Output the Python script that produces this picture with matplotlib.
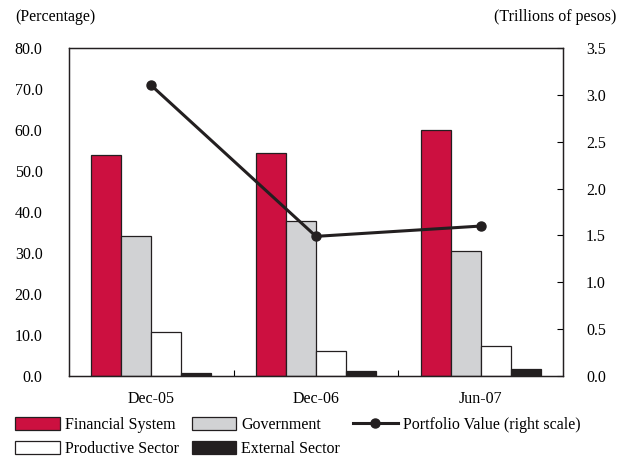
import matplotlib
matplotlib.use("Agg")
import matplotlib.pyplot as plt
import numpy as np
from matplotlib.patches import Patch
from matplotlib.lines import Line2D

plt.rcParams['font.family'] = ['Liberation Serif', 'DejaVu Serif']

categories = ["Dec-05", "Dec-06", "Jun-07"]
financial = [53.9, 54.4, 60.0]
government = [34.1, 37.8, 30.5]
productive = [10.7, 6.1, 7.3]
external = [0.8, 1.2, 1.7]
portfolio = [3.1, 1.49, 1.6]
left_ticks = [0, 10, 20, 30, 40, 50, 60, 70, 80]
right_ticks = [0, 0.5, 1.0, 1.5, 2.0, 2.5, 3.0, 3.5]

c_fin = "#CC1040"
c_gov = "#D1D2D4"
c_prod = "#FFFFFF"
c_ext = "#231F20"
edge = "#231F20"

fs = 11.5
fig = plt.figure(figsize=(6.18, 4.59), dpi=100)
ax = fig.add_axes([69/618, 1-376/459, (563-69)/618, (376-48)/459])
x = np.arange(len(categories))
w = 0.182
series = [(financial, c_fin), (government, c_gov), (productive, c_prod), (external, c_ext)]
for i, (vals, col) in enumerate(series):
    ax.bar(x + (i - 1.5) * w, vals, width=w, color=col, edgecolor=edge, linewidth=0.9, zorder=2)

ax.set_xlim(-0.5, 2.5)
ax.set_ylim(0, 80)
ax.set_yticks(left_ticks)
ax.set_yticklabels([f"{v:.1f}" for v in left_ticks], fontsize=fs)
ax.set_xticks(x)
ax.set_xticklabels(categories, fontsize=fs)
ax.set_xticks([0.5, 1.5], minor=True)
ax.tick_params(axis='x', which='major', length=0, pad=11)
ax.tick_params(axis='x', which='minor', direction='in', length=4, width=0.8)
ax.tick_params(axis='y', direction='in', length=0, pad=19)
for s in ax.spines.values():
    s.set_linewidth(0.9)
    s.set_color(edge)

ax2 = ax.twinx()
ax2.plot(x, portfolio, color=edge, linewidth=2.2, marker='o', markersize=6.5, zorder=5)
ax2.set_ylim(0, 3.5)
ax2.set_yticks(right_ticks)
ax2.set_yticklabels([f"{v:.1f}" for v in right_ticks], fontsize=fs)
ax2.tick_params(axis='y', direction='in', length=4, width=0.8, pad=16.5)
for s in ax2.spines.values():
    s.set_linewidth(0.9)
    s.set_color(edge)

fig.text(15/618, 1-17/459, "(Percentage)", fontsize=fs, va='center', ha='left')
fig.text(616/618, 1-17/459, "(Trillions of pesos)", fontsize=fs, va='center', ha='right')

handles = [
    Patch(facecolor=c_fin, edgecolor=edge, linewidth=0.9),
    Patch(facecolor=c_prod, edgecolor=edge, linewidth=0.9),
    Patch(facecolor=c_gov, edgecolor=edge, linewidth=0.9),
    Patch(facecolor=c_ext, edgecolor=edge, linewidth=0.9),
    Line2D([], [], color=edge, linewidth=2.2, marker='o', markersize=6.5),
]
labels = ["Financial System", "Productive Sector", "Government", "External Sector",
          "Portfolio Value (right scale)"]
fig.legend(handles, labels, ncol=3, loc='upper left', bbox_to_anchor=(15/618, 1-417/459),
           frameon=False, fontsize=fs, handlelength=2.8, handleheight=0.85,
           handletextpad=0.32, columnspacing=0.8, labelspacing=0.52, borderpad=0,
           borderaxespad=0)

fig.savefig("out.png", dpi=100)
